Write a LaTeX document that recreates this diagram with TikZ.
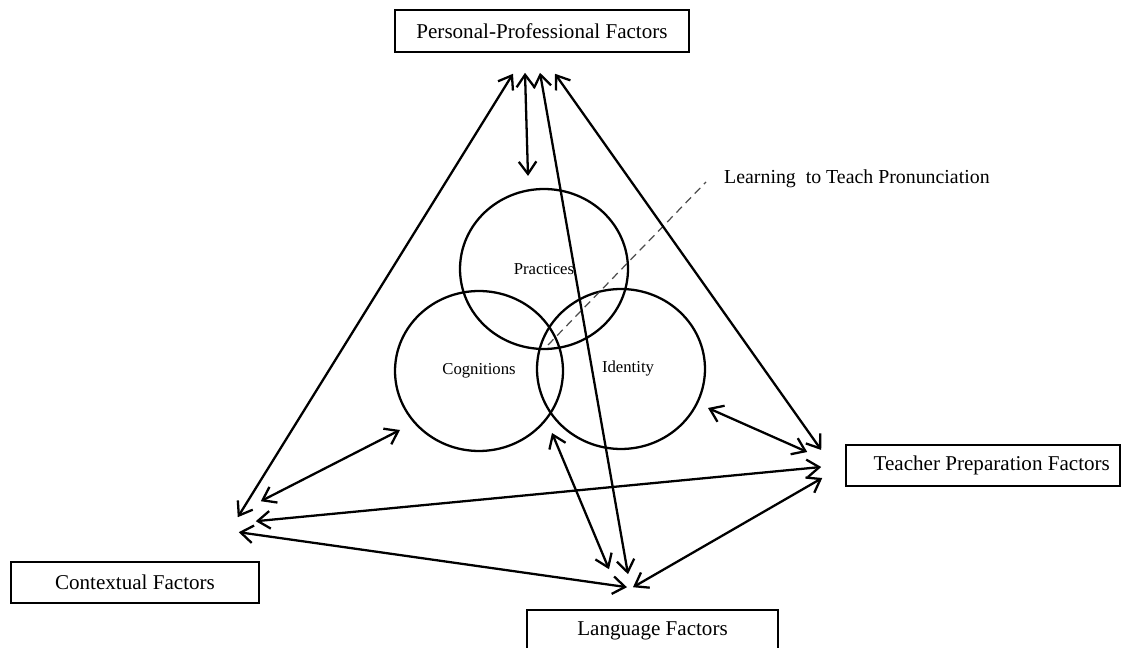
\documentclass[tikz,border=0pt]{standalone}
\usepackage{fontspec}
\setmainfont{Liberation Serif}
\usepackage{tikz}
\usetikzlibrary{arrows.meta,shapes.geometric}

\tikzset{
  factor/.style={draw,line width=0.9pt,rectangle,inner sep=0pt,font=\fontsize{12}{14}\selectfont},
  realm/.style={draw,line width=1.3pt,ellipse,inner sep=0pt,minimum width=3.36cm,minimum height=3.2cm,font=\fontsize{9.5}{11}\selectfont},
  link/.style={<->,line width=1.3pt},
}

\begin{document}
\begin{tikzpicture}[x=0.02cm,y=-0.02cm,>={Straight Barb[length=7pt,width=10pt]}]
\useasboundingbox (0,0) rectangle (1134,648);
% factor boxes
\node[factor,minimum width=5.88cm,minimum height=0.84cm] (pp) at (542,31) {Personal-Professional Factors};
\node[factor,minimum width=5.48cm,minimum height=0.82cm] (tp) at (983,465.5) {\hspace{10pt}Teacher Preparation Factors};
\node[factor,minimum width=4.96cm,minimum height=0.82cm] (cf) at (135,582.5) {Contextual Factors};
\node[factor,minimum width=5.02cm,minimum height=0.84cm] (lf) at (652.5,631) {Language Factors};
% circles
\node[realm] (prac) at (544,269) {Practices};
\node[realm] (cogn) at (479,371) {Cognitions};
\node[realm] (iden) at (621,369) {\hspace{8pt}Identity};
% label
\node[anchor=west,font=\fontsize{11.3}{13}\selectfont] (ltp) at (718,179) {Learning \ to Teach Pronunciation};
\draw[dashed,line width=0.7pt,gray!60!black,dash pattern=on 4.5pt off 3pt] ([shift={(-170,166)}]ltp.west) -- ([shift={(-12,3)}]ltp.west);
% connectors
\draw[link] ([shift={(-29,21)}]pp.south) -- ([shift={(-22,-44)}]cf.north east);
\draw[link] ([shift={(-17,20)}]pp.south) -- ([shift={(-16,-12)}]prac.north);
\draw[link] ([shift={(-2,20)}]pp.south) -- ([shift={(-24.5,-35)}]lf.north);
\draw[link] ([shift={(13,21)}]pp.south) -- ([shift={(-24,-15.5)}]tp.west);
\draw[link] ([shift={(-79,59)}]cogn.center) -- ([shift={(1,-60)}]cf.north east);
\draw[link] ([shift={(-24,1.5)}]tp.west) -- ([shift={(-4,-40)}]cf.north east);
\draw[link] ([shift={(-25.5,-22)}]lf.north) -- ([shift={(-21,-29)}]cf.north east);
\draw[link] ([shift={(73,62)}]cogn.center) -- ([shift={(-43.5,-40)}]lf.north);
\draw[link] ([shift={(-19.5,-22)}]lf.north) -- ([shift={(-23,12.5)}]tp.west);
\draw[link] ([shift={(87,39)}]iden.center) -- ([shift={(-38,-13.5)}]tp.west);
\end{tikzpicture}
\end{document}
